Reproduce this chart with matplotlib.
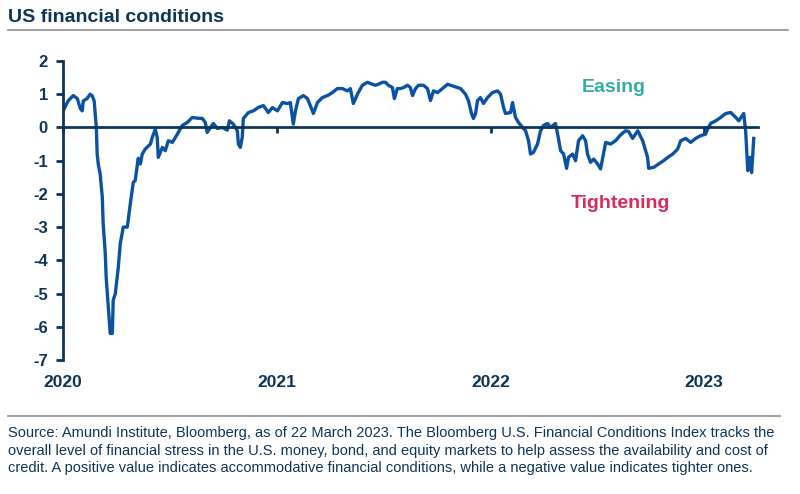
import numpy as np
import matplotlib.pyplot as plt
from matplotlib.lines import Line2D

plt.rcParams['font.family'] = ['Liberation Sans', 'DejaVu Sans']

# time in years since 1 Jan 2020, index value
t = [0.000, 0.023, 0.047, 0.066, 0.080, 0.089, 0.094, 0.112, 0.126, 0.136,
     0.145, 0.155, 0.159, 0.164, 0.173, 0.183, 0.187, 0.197, 0.201, 0.211,
     0.220, 0.230, 0.234, 0.244, 0.258, 0.267, 0.281, 0.300, 0.314, 0.328,
     0.337, 0.351, 0.361, 0.370, 0.384, 0.408, 0.417, 0.431, 0.440, 0.445,
     0.464, 0.478, 0.492, 0.511, 0.525, 0.539, 0.557, 0.581, 0.604, 0.628,
     0.651, 0.665, 0.674, 0.689, 0.703, 0.721, 0.745, 0.768, 0.778, 0.796,
     0.815, 0.820, 0.829, 0.838, 0.843, 0.867, 0.890, 0.913, 0.937, 0.960,
     0.979, 1.003, 1.026, 1.049, 1.063, 1.077, 1.087, 1.101, 1.124, 1.143,
     1.157, 1.171, 1.190, 1.213, 1.237, 1.260, 1.283, 1.307, 1.330, 1.344,
     1.358, 1.377, 1.400, 1.424, 1.447, 1.461, 1.475, 1.494, 1.508, 1.522,
     1.541, 1.550, 1.564, 1.578, 1.593, 1.611, 1.625, 1.635, 1.649, 1.663,
     1.686, 1.705, 1.719, 1.733, 1.752, 1.775, 1.799, 1.813, 1.836, 1.860,
     1.883, 1.897, 1.911, 1.920, 1.930, 1.939, 1.953, 1.967, 1.986, 2.009,
     2.033, 2.047, 2.061, 2.070, 2.094, 2.103, 2.117, 2.131, 2.150, 2.164,
     2.178, 2.187, 2.201, 2.220, 2.234, 2.248, 2.267, 2.281, 2.304, 2.314,
     2.328, 2.342, 2.356, 2.365, 2.384, 2.398, 2.412, 2.431, 2.445, 2.454,
     2.468, 2.483, 2.501, 2.515, 2.539, 2.562, 2.585, 2.609, 2.632, 2.646,
     2.665, 2.689, 2.712, 2.735, 2.740, 2.764, 2.787, 2.810, 2.834, 2.853,
     2.876, 2.890, 2.913, 2.937, 2.960, 2.983, 3.007, 3.016, 3.030, 3.054,
     3.077, 3.101, 3.124, 3.148, 3.162, 3.185, 3.194, 3.204, 3.213, 3.222,
     3.232]
fci = [0.50, 0.80, 0.96, 0.87, 0.57, 0.50, 0.80, 0.87, 1.00, 0.95,
       0.80, 0.00, -0.80, -1.10, -1.40, -2.10, -2.90, -3.80, -4.50, -5.40,
       -6.20, -6.20, -5.20, -5.00, -4.20, -3.50, -3.00, -3.00, -2.30, -1.65,
       -1.60, -0.93, -1.10, -0.80, -0.65, -0.50, -0.30, -0.05, -0.30, -0.90,
       -0.60, -0.70, -0.40, -0.45, -0.30, -0.15, 0.06, 0.15, 0.30, 0.28,
       0.27, 0.15, -0.15, 0.00, 0.12, -0.03, 0.00, -0.08, 0.20, 0.10,
       -0.10, -0.50, -0.60, -0.30, 0.27, 0.45, 0.50, 0.60, 0.66, 0.45,
       0.60, 0.50, 0.75, 0.72, 0.75, 0.10, 0.50, 0.87, 0.96, 0.87,
       0.65, 0.42, 0.75, 0.90, 0.96, 1.05, 1.17, 1.17, 1.10, 1.17,
       0.72, 1.00, 1.27, 1.36, 1.30, 1.27, 1.30, 1.36, 1.36, 1.27,
       1.20, 0.87, 1.17, 1.17, 1.20, 1.27, 1.20, 0.96, 1.17, 1.27,
       1.27, 1.17, 0.81, 1.10, 1.05, 1.17, 1.30, 1.27, 1.22, 1.17,
       1.00, 0.80, 0.42, 0.27, 0.42, 0.81, 0.90, 0.72, 0.90, 1.05,
       1.10, 1.00, 0.60, 0.42, 0.45, 0.75, 0.30, 0.15, 0.00, -0.10,
       -0.40, -0.80, -0.75, -0.50, -0.10, 0.06, 0.12, 0.00, 0.12, -0.20,
       -0.70, -0.80, -1.23, -0.90, -0.80, -1.00, -0.40, -0.25, -0.40, -0.80,
       -1.05, -0.95, -1.10, -1.25, -0.45, -0.50, -0.40, -0.22, -0.10, -0.12,
       -0.33, -0.10, -0.40, -0.90, -1.23, -1.20, -1.10, -1.00, -0.88, -0.80,
       -0.65, -0.40, -0.33, -0.45, -0.33, -0.25, -0.20, -0.05, 0.12, 0.20,
       0.30, 0.42, 0.45, 0.30, 0.20, 0.42, -0.10, -1.30, -0.90, -1.36,
       -0.33]
years = [2020, 2021, 2022, 2023]
yticks = [2, 1, 0, -1, -2, -3, -4, -5, -6, -7]

navy = '#0d3559'
blue = '#0b52a3'

fig = plt.figure(figsize=(8, 4.94), dpi=100)
ax = fig.add_axes([0.079, 0.2713, 0.868, 0.6052])

x = 2020 + np.array(t)
ax.plot(x, fci, color=blue, lw=2.4, solid_joinstyle='round')
ax.set_xlim(2020, 2023.25)
ax.set_ylim(-7, 2)

for s in ['top', 'right']:
    ax.spines[s].set_visible(False)
ax.spines['bottom'].set_position(('data', 0))
ax.spines['bottom'].set_color(navy)
ax.spines['bottom'].set_linewidth(2.0)
ax.spines['left'].set_color(navy)
ax.spines['left'].set_linewidth(2.0)
ax.spines['left'].set_bounds(-7, 2)

ax.set_yticks(yticks)
ax.set_yticklabels([str(v) for v in yticks])
ax.tick_params(axis='y', direction='out', length=5, width=2, color=navy,
               labelsize=12, labelcolor=navy, pad=6)
for lab in ax.get_yticklabels():
    lab.set_fontweight('bold')
ax.set_xticks(years)
ax.tick_params(axis='x', direction='out', length=4, width=2, color=navy,
               labelbottom=False)
for yr in years:
    ax.text(yr, -0.075, str(yr), transform=ax.get_xaxis_transform(),
            ha='center', va='center', fontsize=12.5, fontweight='bold',
            color=navy)

ax.text(0.767, 0.822, 'Easing', transform=fig.transFigure, ha='center',
        va='center', fontsize=14, fontweight='bold', color='#35ada5')
ax.text(0.775, 0.589, 'Tightening', transform=fig.transFigure, ha='center',
        va='center', fontsize=14, fontweight='bold', color='#d92b5b')

fig.text(0.01, 0.965, 'US financial conditions', ha='left', va='center',
         fontsize=14, fontweight='bold', color=navy)
fig.add_artist(Line2D([0.01, 0.985], [0.939, 0.939], color='#9a9a9a', lw=1.3))
fig.add_artist(Line2D([0.01, 0.975], [0.158, 0.158], color='#9a9a9a', lw=1.3))

note = ("Source: Amundi Institute, Bloomberg, as of 22 March 2023. The Bloomberg U.S. Financial Conditions Index tracks the\n"
        "overall level of financial stress in the U.S. money, bond, and equity markets to help assess the availability and cost of\n"
        "credit. A positive value indicates accommodative financial conditions, while a negative value indicates tighter ones.")
fig.text(0.01, 0.137, note, ha='left', va='top', fontsize=10.5, color=navy,
         linespacing=1.3)

fig.savefig('out.png', dpi=100)
